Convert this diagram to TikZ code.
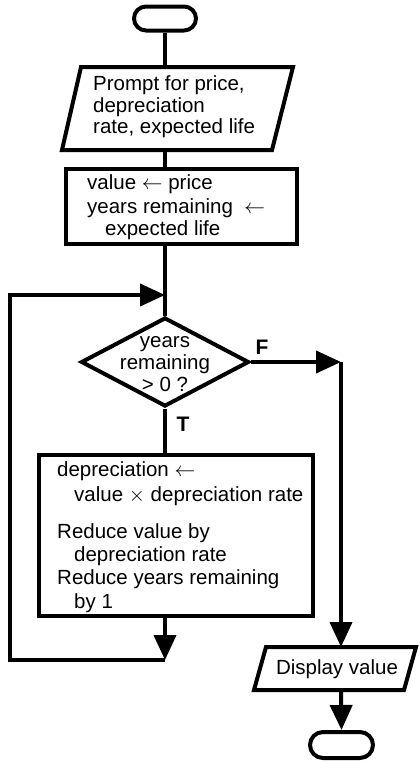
\documentclass[tikz,border=0pt]{standalone}
\usepackage{fontspec}
\setmainfont{Liberation Sans}
\usetikzlibrary{arrows.meta,shapes.geometric,shapes.misc}
\tikzset{
  shapeline/.style={line width=4pt, line join=miter},
  conn/.style={line width=4pt},
  arr/.style={conn, -{Triangle[length=25pt,width=22pt]}},
  term/.style={shapeline, draw, rounded rectangle, inner sep=0pt},
  procbox/.style={shapeline, draw, rectangle, inner sep=0pt},
  decision/.style={shapeline, draw, diamond, inner sep=0pt},
  txt/.style={align=left, inner sep=0pt, font=\fontsize{20.5}{22.5}\selectfont},
  ctxt/.style={align=center, inner sep=0pt, font=\fontsize{20.5}{22}\selectfont},
  lbl/.style={inner sep=0pt, font=\fontsize{21}{22}\selectfont\bfseries},
}
\begin{document}
\begin{tikzpicture}[x=1pt,y=-1pt]
\useasboundingbox (0,0) rectangle (420,761);

% start terminal
\node[term, minimum width=62pt, minimum height=24pt] (start) at (165,18.5) {};

% input parallelogram
\draw[shapeline] (81,67) -- (293,67) -- (272,150) -- (62,150) -- cycle;
\coordinate (p1top) at (165,67);
\coordinate (p1bot) at (165,150);
\node[txt, anchor=west, font=\fontsize{20.5}{21.5}\selectfont] (prompt) at (93,107) {Prompt for price,\\depreciation\\rate, expected life};

% init box
\node[procbox, minimum width=231pt, minimum height=75pt] (init) at (181.5,206.5) {};
\node[txt, anchor=west] (inittxt) at (87,207) {value $\leftarrow$ price\\[1.5pt]years remaining \ $\leftarrow$\\\hspace*{18pt}expected life};

% join point of loop
\coordinate (join) at (165,295);

% decision
\node[decision, minimum width=168pt, minimum height=89pt] (dec) at (165,362) {};
\node[ctxt] (dectxt) at (165,364) {years\\remaining\\> 0 ?};
\node[lbl] (F) at (262,347) {F};
\node[lbl] (T) at (183,424) {T};

% loop body
\node[procbox, minimum width=274pt, minimum height=161pt] (body) at (176,535.5) {};
\node[txt, anchor=west, font=\fontsize{20.5}{23}\selectfont] (bodytxt) at (57,537) {depreciation $\leftarrow$\\[2pt]\hspace*{17pt}value $\times$ depreciation rate\\[14pt]Reduce value by\\\hspace*{17pt}depreciation rate\\Reduce years remaining\\[1pt]\hspace*{17pt}by 1};

% output parallelogram
\draw[shapeline] (266,647) -- (416,647) -- (404,690) -- (254,690) -- cycle;
\coordinate (p2top) at (341,647);
\coordinate (p2bot) at (341,690);
\node[ctxt] (disp) at (337,669) {Display value};

% end terminal
\node[term, minimum width=63pt, minimum height=26pt] (stop) at (341.5,745) {};

% connectors
\coordinate (loopend) at (165,660);
\coordinate (fcorner) at (341,362);
\draw[conn] (start.south) -- (p1top);
\draw[conn] (p1bot) -- (p1bot |- init.north);
\draw[conn] (join |- init.south) -- (dec.north);
\draw[conn] (dec.south) -- (dec.south |- body.north);
\draw[arr] (dec.south |- body.south) -- (loopend);
\draw[arr] (loopend) -- (10,660) -- (10,295) -- (join);
\draw[arr] (dec.east) -- (fcorner);
\draw[arr] (fcorner) -- (p2top);
\draw[arr] (p2bot) -- (stop.north);
\end{tikzpicture}
\end{document}
